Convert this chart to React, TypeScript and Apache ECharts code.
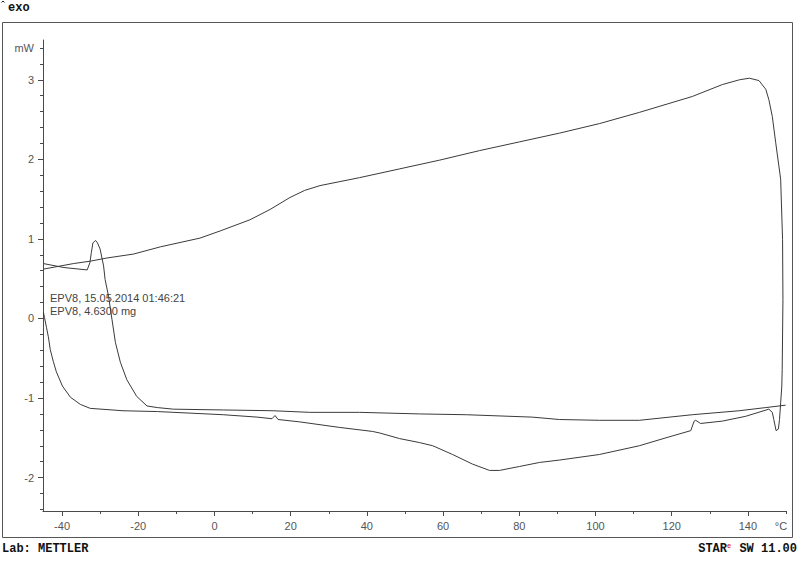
import React, { useEffect, useRef } from "react";
import * as echarts from "echarts";

// Temperature range (°C) and heat-flow range (mW)
const xMin = -45;
const xMax = 150;
const yMin = -2.42;
const yMax = 3.5;

// Tick / label values
const xMajorTicks = [-40, -20, 0, 20, 40, 60, 80, 100, 120, 140];
const xMinorTicks = [-30, -10, 10, 30, 50, 70, 90, 110, 130, 150];
const xLabelValues = [-40, -20, 0, 20, 40, 60, 80, 100, 120, 140, 150];
const yMajorTicks = [-2, -1, 0, 1, 2, 3];
const yMinorTicks = [
  -2.4, -2.2, -1.8, -1.6, -1.4, -1.2, -0.8, -0.6, -0.4, -0.2, 0.2, 0.4, 0.6,
  0.8, 1.2, 1.4, 1.6, 1.8, 2.2, 2.4, 2.6, 2.8, 3.2, 3.4,
];
const yLabelValues = [-2, -1, 0, 1, 2, 3, 3.4];

// First heating run (°C, mW)
const firstHeating: [number, number][] = [
  [-44.9, 0.08], [-44.6, 0.01], [-44.1, -0.11], [-43.6, -0.23], [-43.1, -0.39],
  [-42.3, -0.54], [-41.5, -0.67], [-39.9, -0.85], [-37.8, -0.99], [-35.2, -1.08],
  [-32.6, -1.13], [-24.0, -1.16], [-15.0, -1.17], [-6.4, -1.19], [2.3, -1.21],
  [11.2, -1.24], [15.1, -1.26], [15.9, -1.22], [16.7, -1.27], [22.4, -1.3],
  [32.9, -1.37], [41.5, -1.42], [43.4, -1.44], [48.6, -1.51], [53.8, -1.56],
  [57.3, -1.6], [62.5, -1.71], [67.7, -1.83], [72.2, -1.91], [74.8, -1.91],
  [80.1, -1.86], [85.3, -1.81], [90.5, -1.78], [101.0, -1.71], [111.5, -1.6],
  [118.5, -1.5], [125.0, -1.41], [125.9, -1.29], [126.3, -1.28], [127.6, -1.32],
  [133.3, -1.29], [139.4, -1.23], [145.5, -1.14], [146.4, -1.18], [146.8, -1.27],
  [147.4, -1.41], [148.0, -1.39], [148.3, -1.27], [148.6, -1.06], [148.9, -0.85],
  [149.0, -0.64],
];

// Cooling run (°C, mW)
const coolingRun: [number, number][] = [
  [149.0, -0.64], [149.2, 0.24], [149.1, 0.99], [148.6, 1.75], [147.3, 2.21],
  [146.4, 2.54], [145.5, 2.75], [144.7, 2.88], [142.9, 2.99], [140.4, 3.02],
  [137.8, 3.0], [133.3, 2.94], [125.4, 2.79], [111.5, 2.59], [101.1, 2.45],
  [90.6, 2.33], [80.1, 2.22], [69.6, 2.11], [59.1, 1.99], [48.6, 1.88],
  [38.1, 1.77], [32.9, 1.72], [27.7, 1.67], [23.7, 1.61], [19.8, 1.52],
  [14.6, 1.37], [9.3, 1.24], [1.5, 1.1], [-3.8, 1.01], [-14.2, 0.9],
  [-21.2, 0.81], [-28.2, 0.76], [-32.6, 0.72], [-37.0, 0.69], [-44.9, 0.62],
];

// Second heating run (°C, mW)
const secondHeating: [number, number][] = [
  [-44.9, 0.69], [-39.5, 0.64], [-33.4, 0.61], [-32.7, 0.7], [-32.3, 0.83],
  [-31.9, 0.95], [-31.2, 0.98], [-30.7, 0.95], [-30.0, 0.87], [-29.1, 0.66],
  [-28.7, 0.49], [-27.8, 0.28], [-26.9, -0.01], [-26.0, -0.3], [-24.7, -0.55],
  [-23.0, -0.77], [-20.4, -0.98], [-17.7, -1.1], [-15.0, -1.12], [-10.8, -1.14],
  [2.3, -1.15], [15.4, -1.16], [25.0, -1.18], [38.1, -1.18], [53.8, -1.2],
  [66.1, -1.21], [83.4, -1.24], [90.5, -1.27], [101.0, -1.28], [111.5, -1.28],
  [125.4, -1.21], [137.7, -1.16], [144.7, -1.12], [149.9, -1.09],
];

const annotationLines = ["EPV8, 15.05.2014 01:46:21", "EPV8, 4.6300 mg"];

const lineColor = "#3a3a3a";
const axisColor = "#4a4a4a";
const labelColor = "#555";
const labelFont = "'Liberation Sans', Arial, sans-serif";
const monoFont = "'Liberation Mono', 'Courier New', monospace";

export default function App() {
  const ref = useRef<HTMLDivElement>(null);

  useEffect(() => {
    if (!ref.current) return;
    const chart = echarts.init(ref.current, null, { renderer: "svg" });

    const makeSeries = (data: [number, number][]) => ({
      type: "line",
      data,
      showSymbol: false,
      symbol: "none",
      smooth: false,
      xAxisIndex: 0,
      yAxisIndex: 0,
      lineStyle: { color: lineColor, width: 1 },
      emphasis: { disabled: true },
    });

    const option: any = {
      animation: false,
      backgroundColor: "#fff",
      grid: {
        left: 43,
        right: 14,
        top: 40,
        bottom: 51,
        containLabel: false,
        outerBoundsMode: "none",
      },
      xAxis: [
        {
          type: "value",
          min: xMin,
          max: xMax,
          position: "bottom",
          axisLine: { show: true, onZero: false, lineStyle: { color: axisColor, width: 1 } },
          axisTick: {
            show: true,
            length: 5,
            customValues: xMajorTicks,
            lineStyle: { color: axisColor },
          },
          axisLabel: {
            show: true,
            customValues: xLabelValues,
            margin: 9,
            color: labelColor,
            fontSize: 11,
            fontFamily: labelFont,
            formatter: (v: number) => (v === 150 ? "{u|°C}" : String(v)),
            rich: {
              u: { color: labelColor, fontSize: 11, fontFamily: labelFont, padding: [0, 10, 0, 0] },
            },
          },
          splitLine: { show: false },
        },
        {
          type: "value",
          min: xMin,
          max: xMax,
          position: "bottom",
          axisLine: { show: false, onZero: false },
          axisTick: {
            show: true,
            length: 3,
            customValues: xMinorTicks,
            lineStyle: { color: axisColor },
          },
          axisLabel: { show: false },
          splitLine: { show: false },
        },
      ],
      yAxis: [
        {
          type: "value",
          min: yMin,
          max: yMax,
          position: "left",
          axisLine: { show: true, onZero: false, lineStyle: { color: axisColor, width: 1 } },
          axisTick: {
            show: true,
            length: 5,
            customValues: yMajorTicks,
            lineStyle: { color: axisColor },
          },
          axisLabel: {
            show: true,
            customValues: yLabelValues,
            margin: 9,
            color: labelColor,
            fontSize: 11,
            fontFamily: labelFont,
            formatter: (v: number) => (Math.abs(v - 3.4) < 1e-6 ? "mW" : String(v)),
          },
          splitLine: { show: false },
        },
        {
          type: "value",
          min: yMin,
          max: yMax,
          position: "left",
          axisLine: { show: false, onZero: false },
          axisTick: {
            show: true,
            length: 3,
            customValues: yMinorTicks,
            lineStyle: { color: axisColor },
          },
          axisLabel: { show: false },
          splitLine: { show: false },
        },
      ],
      series: [
        makeSeries(firstHeating),
        makeSeries(coolingRun),
        makeSeries(secondHeating),
      ],
      graphic: [
        {
          type: "rect",
          silent: true,
          shape: { x: 2.5, y: 22.5, width: 790, height: 515 },
          style: { fill: "none", stroke: "#555", lineWidth: 1 },
        },
        {
          type: "polyline",
          silent: true,
          shape: { points: [[1.5, 2.5], [3, 1], [4.5, 2.5]] },
          style: { fill: "none", stroke: "#222", lineWidth: 1 },
        },
        {
          type: "text",
          silent: true,
          x: 8,
          y: 8,
          style: {
            text: "exo",
            fill: "#111",
            font: `bold 12px ${monoFont}`,
            verticalAlign: "middle",
            align: "left",
          },
        },
        {
          type: "text",
          silent: true,
          x: 50,
          y: 298,
          style: {
            text: annotationLines[0],
            fill: "#444",
            font: `11px ${labelFont}`,
            verticalAlign: "middle",
            align: "left",
          },
        },
        {
          type: "text",
          silent: true,
          x: 50,
          y: 311,
          style: {
            text: annotationLines[1],
            fill: "#444",
            font: `11px ${labelFont}`,
            verticalAlign: "middle",
            align: "left",
          },
        },
        {
          type: "text",
          silent: true,
          x: 2,
          y: 549,
          style: {
            text: "Lab: METTLER",
            fill: "#111",
            font: `bold 12px ${monoFont}`,
            verticalAlign: "middle",
            align: "left",
          },
        },
        {
          type: "text",
          silent: true,
          x: 797,
          y: 549,
          style: {
            text: "{a|STAR}{b|e}{a| SW 11.00}",
            align: "right",
            verticalAlign: "middle",
            rich: {
              a: { fill: "#111", font: `bold 12px ${monoFont}` },
              b: { fill: "#e0303a", font: `bold 7px ${monoFont}`, verticalAlign: "top", padding: [0, 1, 6, 0] },
            },
          },
        },
      ],
    };

    chart.setOption(option);
    return () => chart.dispose();
  }, []);

  return (
    <div
      ref={ref}
      style={{ position: "absolute", left: 0, top: 0, width: 800, height: 562 }}
    />
  );
}
